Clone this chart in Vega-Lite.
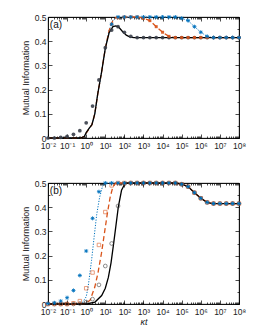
{
  "$schema": "https://vega.github.io/schema/vega-lite/v6.json",
  "padding": {"left": 20, "top": 12, "right": 5, "bottom": 0},
  "spacing": 26,
  "config": {
    "view": {"stroke": "black", "strokeWidth": 0.8},
    "axis": {"labelFont": "Liberation Sans", "labelFontSize": 8.5, "labelColor": "#222", "titleFont": "Liberation Sans", "titleFontSize": 9, "titleFontWeight": "normal", "titleColor": "#222", "domainColor": "black", "domainWidth": 0.8, "tickColor": "black", "tickWidth": 0.7, "grid": false}
  },
  "datasets": {
    "labels": [{"p":"a","t":"(a)","x":0.0125,"y":0.468},{"p":"b","t":"(b)","x":0.0125,"y":0.468}],
    "lines": [
      {"p":"a","s":"b","x":0.01,"y":0},{"p":"a","s":"b","x":0.5012,"y":0},{"p":"a","s":"b","x":0.7943,"y":0.006},{"p":"a","s":"b","x":1,"y":0.02},{"p":"a","s":"b","x":1.4125,"y":0.038},{"p":"a","s":"b","x":1.9953,"y":0.055},{"p":"a","s":"b","x":2.8184,"y":0.1},{"p":"a","s":"b","x":3.9811,"y":0.18},{"p":"a","s":"b","x":6.3096,"y":0.27},{"p":"a","s":"b","x":10,"y":0.37},{"p":"a","s":"b","x":15.849,"y":0.445},{"p":"a","s":"b","x":25.119,"y":0.487},{"p":"a","s":"b","x":39.811,"y":0.5},{"p":"a","s":"b","x":50119,"y":0.5},{"p":"a","s":"b","x":100000,"y":0.495},{"p":"a","s":"b","x":213796,"y":0.485},{"p":"a","s":"b","x":467735,"y":0.46},{"p":"a","s":"b","x":1000000,"y":0.437},{"p":"a","s":"b","x":2137962,"y":0.42},{"p":"a","s":"b","x":3981072,"y":0.415},{"p":"a","s":"b","x":100000000,"y":0.415},
      {"p":"a","s":"o","x":0.01,"y":0},{"p":"a","s":"o","x":0.5012,"y":0},{"p":"a","s":"o","x":0.7943,"y":0.006},{"p":"a","s":"o","x":1,"y":0.02},{"p":"a","s":"o","x":1.4125,"y":0.038},{"p":"a","s":"o","x":1.9953,"y":0.055},{"p":"a","s":"o","x":2.8184,"y":0.1},{"p":"a","s":"o","x":3.9811,"y":0.18},{"p":"a","s":"o","x":6.3096,"y":0.27},{"p":"a","s":"o","x":10,"y":0.37},{"p":"a","s":"o","x":15.849,"y":0.445},{"p":"a","s":"o","x":25.119,"y":0.487},{"p":"a","s":"o","x":39.811,"y":0.5},{"p":"a","s":"o","x":501.19,"y":0.5},{"p":"a","s":"o","x":1000,"y":0.495},{"p":"a","s":"o","x":2138,"y":0.485},{"p":"a","s":"o","x":4677,"y":0.46},{"p":"a","s":"o","x":10000,"y":0.437},{"p":"a","s":"o","x":21380,"y":0.42},{"p":"a","s":"o","x":39811,"y":0.415},{"p":"a","s":"o","x":100000000,"y":0.415},
      {"p":"a","s":"k","x":0.01,"y":0},{"p":"a","s":"k","x":0.5012,"y":0},{"p":"a","s":"k","x":0.7943,"y":0.006},{"p":"a","s":"k","x":1,"y":0.022},{"p":"a","s":"k","x":1.4125,"y":0.04},{"p":"a","s":"k","x":1.9953,"y":0.055},{"p":"a","s":"k","x":2.8184,"y":0.1},{"p":"a","s":"k","x":3.9811,"y":0.18},{"p":"a","s":"k","x":6.3096,"y":0.27},{"p":"a","s":"k","x":10,"y":0.37},{"p":"a","s":"k","x":15.849,"y":0.435},{"p":"a","s":"k","x":25.119,"y":0.46},{"p":"a","s":"k","x":35.481,"y":0.463},{"p":"a","s":"k","x":50.119,"y":0.458},{"p":"a","s":"k","x":79.433,"y":0.44},{"p":"a","s":"k","x":125.89,"y":0.425},{"p":"a","s":"k","x":199.53,"y":0.417},{"p":"a","s":"k","x":316.23,"y":0.415},{"p":"a","s":"k","x":100000000,"y":0.415},
      {"p":"b","s":"b","x":0.01,"y":0},{"p":"b","s":"b","x":0.5623,"y":0},{"p":"b","s":"b","x":1,"y":0.03},{"p":"b","s":"b","x":1.2589,"y":0.07},{"p":"b","s":"b","x":1.9055,"y":0.18},{"p":"b","s":"b","x":2.6303,"y":0.28},{"p":"b","s":"b","x":3.5481,"y":0.37},{"p":"b","s":"b","x":5.0119,"y":0.44},{"p":"b","s":"b","x":7.0795,"y":0.485},{"p":"b","s":"b","x":10,"y":0.5},{"p":"b","s":"b","x":50119,"y":0.5},{"p":"b","s":"b","x":100000,"y":0.495},{"p":"b","s":"b","x":213796,"y":0.485},{"p":"b","s":"b","x":467735,"y":0.46},{"p":"b","s":"b","x":1000000,"y":0.437},{"p":"b","s":"b","x":2137962,"y":0.42},{"p":"b","s":"b","x":3981072,"y":0.415},{"p":"b","s":"b","x":100000000,"y":0.415},
      {"p":"b","s":"o","x":0.01,"y":0},{"p":"b","s":"o","x":0.7943,"y":0},{"p":"b","s":"o","x":1.585,"y":0.015},{"p":"b","s":"o","x":2.818,"y":0.07},{"p":"b","s":"o","x":4.169,"y":0.13},{"p":"b","s":"o","x":6.31,"y":0.21},{"p":"b","s":"o","x":8.913,"y":0.29},{"p":"b","s":"o","x":12.589,"y":0.37},{"p":"b","s":"o","x":17.783,"y":0.44},{"p":"b","s":"o","x":25.119,"y":0.485},{"p":"b","s":"o","x":35.481,"y":0.5},{"p":"b","s":"o","x":50119,"y":0.5},{"p":"b","s":"o","x":100000,"y":0.495},{"p":"b","s":"o","x":213796,"y":0.485},{"p":"b","s":"o","x":467735,"y":0.46},{"p":"b","s":"o","x":1000000,"y":0.437},{"p":"b","s":"o","x":2137962,"y":0.42},{"p":"b","s":"o","x":3981072,"y":0.415},{"p":"b","s":"o","x":100000000,"y":0.415},
      {"p":"b","s":"k","x":0.01,"y":0},{"p":"b","s":"k","x":1,"y":0},{"p":"b","s":"k","x":2.884,"y":0.008},{"p":"b","s":"k","x":6.457,"y":0.035},{"p":"b","s":"k","x":10,"y":0.065},{"p":"b","s":"k","x":14.454,"y":0.11},{"p":"b","s":"k","x":19.953,"y":0.17},{"p":"b","s":"k","x":26.303,"y":0.24},{"p":"b","s":"k","x":35.481,"y":0.32},{"p":"b","s":"k","x":47.863,"y":0.4},{"p":"b","s":"k","x":70.795,"y":0.47},{"p":"b","s":"k","x":112.2,"y":0.5},{"p":"b","s":"k","x":50119,"y":0.5},{"p":"b","s":"k","x":100000,"y":0.495},{"p":"b","s":"k","x":213796,"y":0.485},{"p":"b","s":"k","x":467735,"y":0.46},{"p":"b","s":"k","x":1000000,"y":0.437},{"p":"b","s":"k","x":2137962,"y":0.42},{"p":"b","s":"k","x":3981072,"y":0.415},{"p":"b","s":"k","x":100000000,"y":0.415}
    ],
    "marks": [
      {"p":"a","s":"k","x":0.01,"y":0},{"p":"a","s":"k","x":0.021544,"y":0},{"p":"a","s":"k","x":0.046416,"y":0.003},{"p":"a","s":"k","x":0.1,"y":0.007},{"p":"a","s":"k","x":0.21544,"y":0.015},{"p":"a","s":"k","x":0.46416,"y":0.03},{"p":"a","s":"k","x":1,"y":0.063},{"p":"a","s":"k","x":2.1544,"y":0.132},{"p":"a","s":"k","x":4.6416,"y":0.24},{"p":"a","s":"k","x":10,"y":0.373},{"p":"a","s":"k","x":21.544,"y":0.446},{"p":"a","s":"k","x":46.416,"y":0.46},{"p":"a","s":"k","x":100,"y":0.437},{"p":"a","s":"k","x":215.44,"y":0.42},{"p":"a","s":"k","x":464.16,"y":0.415},{"p":"a","s":"k","x":1000,"y":0.415},{"p":"a","s":"k","x":2154.4,"y":0.415},{"p":"a","s":"k","x":4641.6,"y":0.415},{"p":"a","s":"k","x":10000,"y":0.415},{"p":"a","s":"k","x":21544,"y":0.415},{"p":"a","s":"k","x":46416,"y":0.415},{"p":"a","s":"k","x":100000,"y":0.415},{"p":"a","s":"k","x":215443,"y":0.415},{"p":"a","s":"k","x":464159,"y":0.415},{"p":"a","s":"k","x":1000000,"y":0.415},{"p":"a","s":"k","x":2154435,"y":0.415},{"p":"a","s":"k","x":4641589,"y":0.415},{"p":"a","s":"k","x":10000000,"y":0.415},{"p":"a","s":"k","x":21544347,"y":0.415},{"p":"a","s":"k","x":46415888,"y":0.415},{"p":"a","s":"k","x":100000000,"y":0.415},
      {"p":"a","s":"o","x":21.544,"y":0.47},{"p":"a","s":"o","x":46.416,"y":0.497},{"p":"a","s":"o","x":100,"y":0.5},{"p":"a","s":"o","x":215.44,"y":0.5},{"p":"a","s":"o","x":464.16,"y":0.5},{"p":"a","s":"o","x":1000,"y":0.495},{"p":"a","s":"o","x":2154.4,"y":0.485},{"p":"a","s":"o","x":4641.6,"y":0.46},{"p":"a","s":"o","x":10000,"y":0.437},{"p":"a","s":"o","x":21544,"y":0.42},{"p":"a","s":"o","x":46416,"y":0.415},{"p":"a","s":"o","x":100000,"y":0.415},{"p":"a","s":"o","x":215443,"y":0.415},{"p":"a","s":"o","x":464159,"y":0.415},{"p":"a","s":"o","x":1000000,"y":0.415},{"p":"a","s":"o","x":2154435,"y":0.415},{"p":"a","s":"o","x":4641589,"y":0.415},{"p":"a","s":"o","x":10000000,"y":0.415},{"p":"a","s":"o","x":21544347,"y":0.415},{"p":"a","s":"o","x":46415888,"y":0.415},{"p":"a","s":"o","x":100000000,"y":0.415},
      {"p":"a","s":"b","x":21.544,"y":0.47},{"p":"a","s":"b","x":46.416,"y":0.5},{"p":"a","s":"b","x":100,"y":0.5},{"p":"a","s":"b","x":215.44,"y":0.5},{"p":"a","s":"b","x":464.16,"y":0.5},{"p":"a","s":"b","x":1000,"y":0.5},{"p":"a","s":"b","x":2154.4,"y":0.5},{"p":"a","s":"b","x":4641.6,"y":0.5},{"p":"a","s":"b","x":10000,"y":0.5},{"p":"a","s":"b","x":21544,"y":0.5},{"p":"a","s":"b","x":46416,"y":0.5},{"p":"a","s":"b","x":100000,"y":0.495},{"p":"a","s":"b","x":215443,"y":0.485},{"p":"a","s":"b","x":464159,"y":0.46},{"p":"a","s":"b","x":1000000,"y":0.437},{"p":"a","s":"b","x":2154435,"y":0.42},{"p":"a","s":"b","x":4641589,"y":0.415},{"p":"a","s":"b","x":10000000,"y":0.415},{"p":"a","s":"b","x":21544347,"y":0.415},{"p":"a","s":"b","x":46415888,"y":0.415},{"p":"a","s":"b","x":100000000,"y":0.415},
      {"p":"b","s":"k","x":0.01,"y":0},{"p":"b","s":"k","x":0.021544,"y":0},{"p":"b","s":"k","x":0.046416,"y":0},{"p":"b","s":"k","x":0.1,"y":0},{"p":"b","s":"k","x":0.21544,"y":0},{"p":"b","s":"k","x":0.46416,"y":0.002},{"p":"b","s":"k","x":1,"y":0.008},{"p":"b","s":"k","x":2.1544,"y":0.02},{"p":"b","s":"k","x":4.6416,"y":0.079},{"p":"b","s":"k","x":10,"y":0.157},{"p":"b","s":"k","x":21.544,"y":0.25},{"p":"b","s":"k","x":46.416,"y":0.405},{"p":"b","s":"k","x":100,"y":0.497},{"p":"b","s":"k","x":215.44,"y":0.5},{"p":"b","s":"k","x":464.16,"y":0.5},{"p":"b","s":"k","x":1000,"y":0.5},{"p":"b","s":"k","x":2154.4,"y":0.5},{"p":"b","s":"k","x":4641.6,"y":0.5},{"p":"b","s":"k","x":10000,"y":0.5},{"p":"b","s":"k","x":21544,"y":0.5},{"p":"b","s":"k","x":46416,"y":0.5},{"p":"b","s":"k","x":100000,"y":0.495},{"p":"b","s":"k","x":215443,"y":0.485},{"p":"b","s":"k","x":464159,"y":0.46},{"p":"b","s":"k","x":1000000,"y":0.437},{"p":"b","s":"k","x":2154435,"y":0.42},{"p":"b","s":"k","x":4641589,"y":0.415},{"p":"b","s":"k","x":10000000,"y":0.415},{"p":"b","s":"k","x":21544347,"y":0.415},{"p":"b","s":"k","x":46415888,"y":0.415},{"p":"b","s":"k","x":100000000,"y":0.415},
      {"p":"b","s":"o","x":0.01,"y":0},{"p":"b","s":"o","x":0.021544,"y":0},{"p":"b","s":"o","x":0.046416,"y":0},{"p":"b","s":"o","x":0.1,"y":0},{"p":"b","s":"o","x":0.21544,"y":0.003},{"p":"b","s":"o","x":0.46416,"y":0.012},{"p":"b","s":"o","x":1,"y":0.065},{"p":"b","s":"o","x":2.1544,"y":0.13},{"p":"b","s":"o","x":4.6416,"y":0.244},{"p":"b","s":"o","x":10,"y":0.38},{"p":"b","s":"o","x":21.544,"y":0.49},{"p":"b","s":"o","x":46.416,"y":0.5},{"p":"b","s":"o","x":100,"y":0.5},{"p":"b","s":"o","x":215.44,"y":0.5},{"p":"b","s":"o","x":464.16,"y":0.5},{"p":"b","s":"o","x":1000,"y":0.5},{"p":"b","s":"o","x":2154.4,"y":0.5},{"p":"b","s":"o","x":4641.6,"y":0.5},{"p":"b","s":"o","x":10000,"y":0.5},{"p":"b","s":"o","x":21544,"y":0.5},{"p":"b","s":"o","x":46416,"y":0.5},{"p":"b","s":"o","x":100000,"y":0.495},{"p":"b","s":"o","x":215443,"y":0.485},{"p":"b","s":"o","x":464159,"y":0.46},{"p":"b","s":"o","x":1000000,"y":0.437},{"p":"b","s":"o","x":2154435,"y":0.42},{"p":"b","s":"o","x":4641589,"y":0.415},{"p":"b","s":"o","x":10000000,"y":0.415},{"p":"b","s":"o","x":21544347,"y":0.415},{"p":"b","s":"o","x":46415888,"y":0.415},{"p":"b","s":"o","x":100000000,"y":0.415},
      {"p":"b","s":"b","x":0.01,"y":0.002},{"p":"b","s":"b","x":0.021544,"y":0.005},{"p":"b","s":"b","x":0.046416,"y":0.012},{"p":"b","s":"b","x":0.1,"y":0.026},{"p":"b","s":"b","x":0.21544,"y":0.056},{"p":"b","s":"b","x":0.46416,"y":0.118},{"p":"b","s":"b","x":1,"y":0.219},{"p":"b","s":"b","x":2.1544,"y":0.354},{"p":"b","s":"b","x":4.6416,"y":0.464},{"p":"b","s":"b","x":10,"y":0.5},{"p":"b","s":"b","x":21.544,"y":0.5},{"p":"b","s":"b","x":46.416,"y":0.5},{"p":"b","s":"b","x":100,"y":0.5},{"p":"b","s":"b","x":215.44,"y":0.5},{"p":"b","s":"b","x":464.16,"y":0.5},{"p":"b","s":"b","x":1000,"y":0.5},{"p":"b","s":"b","x":2154.4,"y":0.5},{"p":"b","s":"b","x":4641.6,"y":0.5},{"p":"b","s":"b","x":10000,"y":0.5},{"p":"b","s":"b","x":21544,"y":0.5},{"p":"b","s":"b","x":46416,"y":0.5},{"p":"b","s":"b","x":100000,"y":0.495},{"p":"b","s":"b","x":215443,"y":0.485},{"p":"b","s":"b","x":464159,"y":0.46},{"p":"b","s":"b","x":1000000,"y":0.437},{"p":"b","s":"b","x":2154435,"y":0.42},{"p":"b","s":"b","x":4641589,"y":0.415},{"p":"b","s":"b","x":10000000,"y":0.415},{"p":"b","s":"b","x":21544347,"y":0.415},{"p":"b","s":"b","x":46415888,"y":0.415},{"p":"b","s":"b","x":100000000,"y":0.415}
    ]
  },
  "vconcat": [
    {
      "width": 191, "height": 121,
      "layer": [
        {
          "encoding": {
            "x": {"field": "x", "type": "quantitative", "scale": {"type": "log", "domain": [0.01, 100000000], "nice": false},
              "axis": {"orient": "bottom", "title": null, "values": [0.01,0.02,0.03,0.04,0.05,0.06,0.07,0.08,0.09,0.1,0.2,0.3,0.4,0.5,0.6,0.7,0.8,0.9,1,2,3,4,5,6,7,8,9,10,20,30,40,50,60,70,80,90,100,200,300,400,500,600,700,800,900,1000,2000,3000,4000,5000,6000,7000,8000,9000,10000,20000,30000,40000,50000,60000,70000,80000,90000,100000,200000,300000,400000,500000,600000,700000,800000,900000,1000000,2000000,3000000,4000000,5000000,6000000,7000000,8000000,9000000,10000000,20000000,30000000,40000000,50000000,60000000,70000000,80000000,90000000,100000000],
                "labelExpr": "abs(log(datum.value)/LN10 - round(log(datum.value)/LN10)) < 0.001 ? '10' + (round(log(datum.value)/LN10) < 0 ? '⁻' : '') + substring('⁰¹²³⁴⁵⁶⁷⁸⁹', abs(round(log(datum.value)/LN10)), abs(round(log(datum.value)/LN10)) + 1) : ''",
                "tickSize": {"condition": {"test": "abs(log(datum.value)/LN10 - round(log(datum.value)/LN10)) < 0.001", "value": -4}, "value": -2},
                "labelOverlap": false, "labelFlush": false, "labelPadding": 7}},
            "y": {"field": "y", "type": "quantitative", "scale": {"domain": [0, 0.5], "nice": false},
              "axis": {"orient": "left", "title": "Mutual Information", "values": [0,0.05,0.1,0.15,0.2,0.25,0.3,0.35,0.4,0.45,0.5],
                "labelExpr": "abs(datum.value*10 - round(datum.value*10)) < 0.001 ? format(datum.value, '.1~f') : ''",
                "tickSize": {"condition": {"test": "abs(datum.value*10 - round(datum.value*10)) < 0.001", "value": -4}, "value": -2},
                "labelOverlap": false, "labelPadding": 6, "titlePadding": 4}}
          },
          "layer": [
            {"data": {"name": "lines"}, "transform": [{"filter": "datum.p == 'a' && datum.s == 'b'"}], "mark": {"type": "line", "color": "#0072BD", "strokeWidth": 1, "strokeDash": [1.2, 1.5]}},
            {"data": {"name": "lines"}, "transform": [{"filter": "datum.p == 'a' && datum.s == 'o'"}], "mark": {"type": "line", "color": "#D95319", "strokeWidth": 1.3, "strokeDash": [5, 3]}},
            {"data": {"name": "lines"}, "transform": [{"filter": "datum.p == 'a' && datum.s == 'k'"}], "mark": {"type": "line", "color": "black", "strokeWidth": 1.3}},
            {"data": {"name": "marks"}, "transform": [{"filter": "datum.p == 'a' && datum.s == 'k'"}], "mark": {"type": "point", "shape": "circle", "filled": true, "color": "#3a3f4a", "size": 14, "opacity": 0.9}},
            {"data": {"name": "marks"}, "transform": [{"filter": "datum.p == 'a' && datum.s == 'o'"}], "mark": {"type": "point", "shape": "square", "filled": true, "color": "#D95319", "size": 9, "opacity": 0.9}},
            {"data": {"name": "marks"}, "transform": [{"filter": "datum.p == 'a' && datum.s == 'b'"}], "mark": {"type": "point", "shape": "M-1,0L1,0M0,-1L0,1M-0.7,-0.7L0.7,0.7M-0.7,0.7L0.7,-0.7", "filled": false, "color": "#0072BD", "size": 16, "strokeWidth": 0.9, "opacity": 1}},
            {"data": {"name": "labels"}, "transform": [{"filter": "datum.p == 'a'"}], "mark": {"type": "text", "align": "left", "baseline": "middle", "font": "Liberation Sans", "fontSize": 10, "color": "#111"}, "encoding": {"text": {"field": "t"}}}
          ]
        },
        {
          "data": {"name": "marks"},
          "transform": [{"filter": "datum.p == 'a'"}],
          "mark": {"type": "point", "opacity": 0},
          "encoding": {
            "x": {"field": "x", "type": "quantitative", "scale": {"type": "log", "domain": [0.01, 100000000], "nice": false},
              "axis": {"orient": "top", "title": null, "labels": false, "values": [0.01,0.02,0.03,0.04,0.05,0.06,0.07,0.08,0.09,0.1,0.2,0.3,0.4,0.5,0.6,0.7,0.8,0.9,1,2,3,4,5,6,7,8,9,10,20,30,40,50,60,70,80,90,100,200,300,400,500,600,700,800,900,1000,2000,3000,4000,5000,6000,7000,8000,9000,10000,20000,30000,40000,50000,60000,70000,80000,90000,100000,200000,300000,400000,500000,600000,700000,800000,900000,1000000,2000000,3000000,4000000,5000000,6000000,7000000,8000000,9000000,10000000,20000000,30000000,40000000,50000000,60000000,70000000,80000000,90000000,100000000],
                "tickSize": {"condition": {"test": "abs(log(datum.value)/LN10 - round(log(datum.value)/LN10)) < 0.001", "value": -4}, "value": -2}}},
            "y": {"field": "y", "type": "quantitative", "scale": {"domain": [0, 0.5], "nice": false},
              "axis": {"orient": "right", "title": null, "labels": false, "values": [0,0.05,0.1,0.15,0.2,0.25,0.3,0.35,0.4,0.45,0.5],
                "tickSize": {"condition": {"test": "abs(datum.value*10 - round(datum.value*10)) < 0.001", "value": -4}, "value": -2}}}
          }
        }
      ],
      "resolve": {"axis": {"x": "independent", "y": "independent"}}
    },
    {
      "width": 191, "height": 121,
      "layer": [
        {
          "encoding": {
            "x": {"field": "x", "type": "quantitative", "scale": {"type": "log", "domain": [0.01, 100000000], "nice": false},
              "axis": {"orient": "bottom", "title": "κt", "titleFontStyle": "italic", "titlePadding": 0, "values": [0.01,0.02,0.03,0.04,0.05,0.06,0.07,0.08,0.09,0.1,0.2,0.3,0.4,0.5,0.6,0.7,0.8,0.9,1,2,3,4,5,6,7,8,9,10,20,30,40,50,60,70,80,90,100,200,300,400,500,600,700,800,900,1000,2000,3000,4000,5000,6000,7000,8000,9000,10000,20000,30000,40000,50000,60000,70000,80000,90000,100000,200000,300000,400000,500000,600000,700000,800000,900000,1000000,2000000,3000000,4000000,5000000,6000000,7000000,8000000,9000000,10000000,20000000,30000000,40000000,50000000,60000000,70000000,80000000,90000000,100000000],
                "labelExpr": "abs(log(datum.value)/LN10 - round(log(datum.value)/LN10)) < 0.001 ? '10' + (round(log(datum.value)/LN10) < 0 ? '⁻' : '') + substring('⁰¹²³⁴⁵⁶⁷⁸⁹', abs(round(log(datum.value)/LN10)), abs(round(log(datum.value)/LN10)) + 1) : ''",
                "tickSize": {"condition": {"test": "abs(log(datum.value)/LN10 - round(log(datum.value)/LN10)) < 0.001", "value": -4}, "value": -2},
                "labelOverlap": false, "labelFlush": false, "labelPadding": 7}},
            "y": {"field": "y", "type": "quantitative", "scale": {"domain": [0, 0.5], "nice": false},
              "axis": {"orient": "left", "title": "Mutual Information", "values": [0,0.05,0.1,0.15,0.2,0.25,0.3,0.35,0.4,0.45,0.5],
                "labelExpr": "abs(datum.value*10 - round(datum.value*10)) < 0.001 ? format(datum.value, '.1~f') : ''",
                "tickSize": {"condition": {"test": "abs(datum.value*10 - round(datum.value*10)) < 0.001", "value": -4}, "value": -2},
                "labelOverlap": false, "labelPadding": 6, "titlePadding": 4}}
          },
          "layer": [
            {"data": {"name": "lines"}, "transform": [{"filter": "datum.p == 'b' && datum.s == 'b'"}], "mark": {"type": "line", "color": "#0072BD", "strokeWidth": 1, "strokeDash": [1.2, 1.5]}},
            {"data": {"name": "lines"}, "transform": [{"filter": "datum.p == 'b' && datum.s == 'o'"}], "mark": {"type": "line", "color": "#D95319", "strokeWidth": 1.3, "strokeDash": [5, 3]}},
            {"data": {"name": "lines"}, "transform": [{"filter": "datum.p == 'b' && datum.s == 'k'"}], "mark": {"type": "line", "color": "black", "strokeWidth": 1.3}},
            {"data": {"name": "marks"}, "transform": [{"filter": "datum.p == 'b' && datum.s == 'k'"}], "mark": {"type": "point", "shape": "circle", "filled": false, "color": "#333", "size": 14, "strokeWidth": 0.8}},
            {"data": {"name": "marks"}, "transform": [{"filter": "datum.p == 'b' && datum.s == 'o'"}], "mark": {"type": "point", "shape": "square", "filled": false, "color": "#D95319", "size": 12, "strokeWidth": 0.8}},
            {"data": {"name": "marks"}, "transform": [{"filter": "datum.p == 'b' && datum.s == 'b'"}], "mark": {"type": "point", "shape": "M-1,0L1,0M0,-1L0,1M-0.7,-0.7L0.7,0.7M-0.7,0.7L0.7,-0.7", "filled": false, "color": "#0072BD", "size": 16, "strokeWidth": 0.9, "opacity": 1}},
            {"data": {"name": "labels"}, "transform": [{"filter": "datum.p == 'b'"}], "mark": {"type": "text", "align": "left", "baseline": "middle", "font": "Liberation Sans", "fontSize": 10, "color": "#111"}, "encoding": {"text": {"field": "t"}}}
          ]
        },
        {
          "data": {"name": "marks"},
          "transform": [{"filter": "datum.p == 'b'"}],
          "mark": {"type": "point", "opacity": 0},
          "encoding": {
            "x": {"field": "x", "type": "quantitative", "scale": {"type": "log", "domain": [0.01, 100000000], "nice": false},
              "axis": {"orient": "top", "title": null, "labels": false, "values": [0.01,0.02,0.03,0.04,0.05,0.06,0.07,0.08,0.09,0.1,0.2,0.3,0.4,0.5,0.6,0.7,0.8,0.9,1,2,3,4,5,6,7,8,9,10,20,30,40,50,60,70,80,90,100,200,300,400,500,600,700,800,900,1000,2000,3000,4000,5000,6000,7000,8000,9000,10000,20000,30000,40000,50000,60000,70000,80000,90000,100000,200000,300000,400000,500000,600000,700000,800000,900000,1000000,2000000,3000000,4000000,5000000,6000000,7000000,8000000,9000000,10000000,20000000,30000000,40000000,50000000,60000000,70000000,80000000,90000000,100000000],
                "tickSize": {"condition": {"test": "abs(log(datum.value)/LN10 - round(log(datum.value)/LN10)) < 0.001", "value": -4}, "value": -2}}},
            "y": {"field": "y", "type": "quantitative", "scale": {"domain": [0, 0.5], "nice": false},
              "axis": {"orient": "right", "title": null, "labels": false, "values": [0,0.05,0.1,0.15,0.2,0.25,0.3,0.35,0.4,0.45,0.5],
                "tickSize": {"condition": {"test": "abs(datum.value*10 - round(datum.value*10)) < 0.001", "value": -4}, "value": -2}}}
          }
        }
      ],
      "resolve": {"axis": {"x": "independent", "y": "independent"}}
    }
  ]
}
